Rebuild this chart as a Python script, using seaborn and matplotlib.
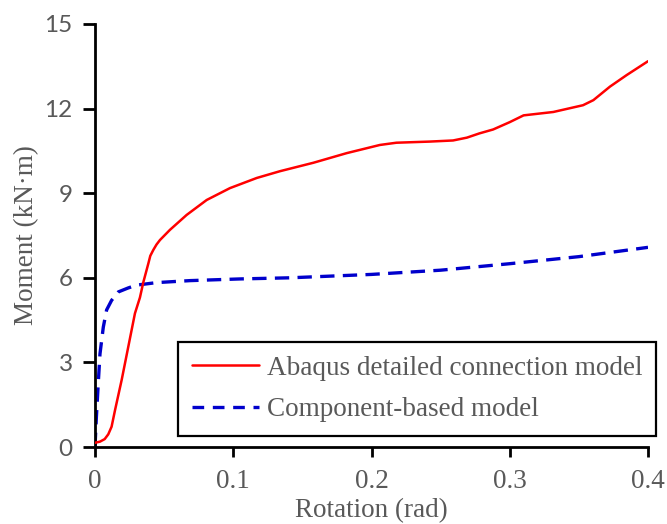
import matplotlib
matplotlib.use("Agg")
import matplotlib.pyplot as plt
from matplotlib.lines import Line2D
import seaborn as sns
import pandas as pd

# Data
rot_abaqus = [0.0, 0.0036, 0.007, 0.0096, 0.012, 0.0145, 0.0193, 0.0241, 0.0289,
              0.0325, 0.035, 0.0386, 0.040, 0.0422, 0.0445, 0.047, 0.0542, 0.0663,
              0.0808, 0.0976, 0.117, 0.1338, 0.158, 0.182, 0.206, 0.218, 0.242,
              0.259, 0.269, 0.278, 0.288, 0.300, 0.310, 0.3315, 0.353, 0.3605,
              0.3725, 0.3846, 0.400]
mom_abaqus = [0.15, 0.19, 0.28, 0.45, 0.72, 1.31, 2.38, 3.56, 4.74,
              5.30, 5.85, 6.51, 6.78, 6.99, 7.18, 7.34, 7.70, 8.23,
              8.76, 9.18, 9.54, 9.78, 10.08, 10.42, 10.71, 10.79, 10.83,
              10.87, 10.97, 11.12, 11.26, 11.52, 11.76, 11.88, 12.12, 12.30,
              12.78, 13.19, 13.68]

rot_comp = [0.0, 0.001, 0.0024, 0.0036, 0.006, 0.0084, 0.012, 0.0169, 0.024,
            0.030, 0.0446, 0.0687, 0.105, 0.141, 0.200, 0.250, 0.300, 0.350, 0.400]
mom_comp = [0.0, 1.06, 2.30, 3.30, 4.25, 4.86, 5.20, 5.50, 5.64,
            5.74, 5.83, 5.90, 5.96, 6.00, 6.12, 6.27, 6.50, 6.75, 7.08]

label_abaqus = "Abaqus detailed connection model"
label_comp = "Component-based model"

x_ticks = [0, 0.1, 0.2, 0.3, 0.4]
x_tick_labels = ["0", "0.1", "0.2", "0.3", "0.4"]
y_ticks = [0, 3, 6, 9, 12, 15]

df = pd.concat([
    pd.DataFrame({"rot": rot_abaqus, "mom": mom_abaqus, "model": label_abaqus}),
    pd.DataFrame({"rot": rot_comp, "mom": mom_comp, "model": label_comp}),
])

sns.set_style("ticks")
plt.rcParams["axes.edgecolor"] = "black"

RED = "#FF0000"
BLUE = "#0000CC"
LW_RED = 1.8
LW_BLUE = 2.4
DASH = (4.3, 2.5)

fig = plt.figure(figsize=(6.67, 5.24), dpi=100)
ax = fig.add_axes([95/667, 1-447/524, (648-95)/667, (447-24)/524])

sns.lineplot(data=df, x="rot", y="mom", hue="model", style="model",
             palette={label_abaqus: RED, label_comp: BLUE},
             dashes={label_abaqus: "", label_comp: DASH},
             sort=False, estimator=None, ax=ax, legend=False)
lines = ax.get_lines()
lines[0].set_linewidth(LW_RED)
lines[0].set_zorder(3)
lines[1].set_linewidth(LW_BLUE)
lines[1].set_zorder(2)
for ln in lines:
    ln.set_solid_joinstyle("round")
    ln.set_solid_capstyle("round")

ax.set_xlim(0, 0.4)
ax.set_ylim(0, 15)
sns.despine(ax=ax)
for s in ["left", "bottom"]:
    ax.spines[s].set_linewidth(2.0)
    ax.spines[s].set_color("black")

grey = "#595959"
ax.set_xticks(x_ticks)
ax.set_xticklabels(x_tick_labels, fontfamily="Liberation Serif", fontsize=19.5, color=grey)
ax.set_yticks(y_ticks)
ax.set_yticklabels([str(v) for v in y_ticks], fontfamily="Lato", fontsize=17.5, color=grey)
ax.tick_params(axis="x", direction="out", length=7, width=2, color="black", pad=9)
ax.tick_params(axis="y", direction="out", length=9, width=2, color="black", pad=7)

ax.set_xlabel("Rotation (rad)", fontfamily="Liberation Serif", fontsize=19.5, color=grey, labelpad=3)
ax.set_ylabel("Moment (kN\u00b7m)", fontfamily="Liberation Serif", fontsize=19.5, color=grey, labelpad=4)

handles = [Line2D([], [], color=RED, lw=LW_RED),
           Line2D([], [], color=BLUE, lw=LW_BLUE, dashes=(3.5, 2.6))]
leg = ax.legend(handles, [label_abaqus, label_comp], loc="lower left",
                bbox_to_anchor=(83/553, 11/423), frameon=True, fancybox=False,
                edgecolor="black", framealpha=1, handlelength=2.5, handletextpad=0.3,
                labelspacing=0.62, borderpad=0.5, borderaxespad=0,
                prop={"family": "Liberation Serif", "size": 19.5})
leg.get_frame().set_linewidth(1.6)
for t in leg.get_texts():
    t.set_color(grey)
leg.set_clip_on(False)

fig.savefig("out.png", dpi=100)
